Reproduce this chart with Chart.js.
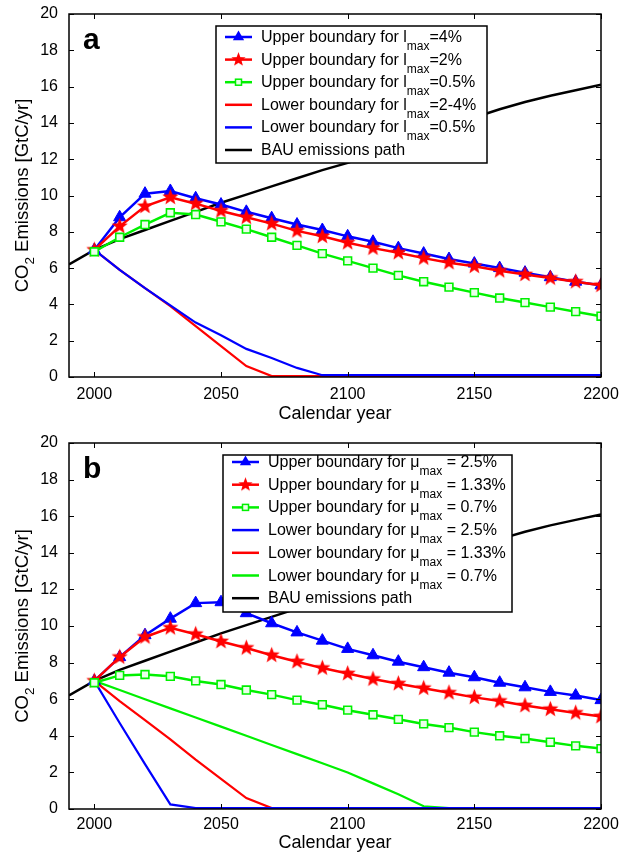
<!DOCTYPE html>
<html>
<head>
<meta charset="utf-8">
<script src="https://cdn.jsdelivr.net/npm/chart.js@4.4.1/dist/chart.umd.min.js"></script>
<style>
  body { margin: 0; background: #fff; }
  #wrap { position: relative; width: 620px; height: 854px; }
  canvas { position: absolute; left: 0; }
</style>
</head>
<body>
<div id="wrap">
  <canvas id="chartA" width="620" height="427" style="top:0"></canvas>
  <canvas id="chartB" width="620" height="427" style="top:427px"></canvas>
</div>
<script>
// years of the scenario runs
const years = [2000, 2010, 2020, 2030, 2040, 2050, 2060, 2070, 2080, 2090, 2100,
               2110, 2120, 2130, 2140, 2150, 2160, 2170, 2180, 2190, 2200];
const bauYears = [1990, 2000, 2010, 2020, 2030, 2040, 2050, 2060, 2070, 2080, 2090, 2100,
                  2110, 2120, 2130, 2140, 2150, 2160, 2170, 2180, 2190, 2200];
const bauPath = [6.2, 7.0, 7.6, 8.1, 8.6, 9.1, 9.6, 10.05, 10.5, 10.95, 11.4, 11.8,
                 12.3, 12.8, 13.3, 13.8, 14.3, 14.75, 15.15, 15.5, 15.8, 16.1];
const xTicks = [2000, 2050, 2100, 2150, 2200];
const yTicks = [0, 2, 4, 6, 8, 10, 12, 14, 16, 18, 20];

// panel a
const aUpper4 = [7.0, 8.8, 10.1, 10.25, 9.85, 9.5, 9.1, 8.75, 8.4, 8.1, 7.75,
                 7.45, 7.1, 6.8, 6.5, 6.25, 6.0, 5.75, 5.5, 5.25, 5.05];
const aUpper2 = [7.0, 8.3, 9.4, 9.9, 9.55, 9.15, 8.8, 8.45, 8.05, 7.75, 7.4,
                 7.1, 6.85, 6.55, 6.3, 6.1, 5.85, 5.65, 5.45, 5.25, 5.05];
const aUpper05 = [6.9, 7.7, 8.4, 9.05, 8.95, 8.55, 8.15, 7.7, 7.25, 6.8, 6.4,
                  6.0, 5.6, 5.25, 4.95, 4.65, 4.35, 4.1, 3.85, 3.6, 3.35];
const aLower24 = [7.0, 5.9, 4.9, 3.9, 2.8, 1.7, 0.6, 0.05, 0.05, 0.05, 0.05,
                  0.05, 0.05, 0.05, 0.05, 0.05, 0.05, 0.05, 0.05, 0.05, 0.05];
const aLower05 = [7.0, 5.9, 4.9, 3.95, 3.0, 2.3, 1.55, 1.05, 0.5, 0.1, 0.1,
                  0.1, 0.1, 0.1, 0.1, 0.1, 0.1, 0.1, 0.1, 0.1, 0.1];

// panel b
const bUpper25 = [7.0, 8.3, 9.5, 10.4, 11.25, 11.3, 10.7, 10.15, 9.65, 9.2, 8.75,
                  8.4, 8.05, 7.75, 7.45, 7.2, 6.9, 6.65, 6.4, 6.2, 5.95];
const bUpper133 = [7.0, 8.3, 9.4, 9.9, 9.55, 9.15, 8.8, 8.4, 8.05, 7.7, 7.4,
                   7.1, 6.85, 6.6, 6.35, 6.1, 5.9, 5.65, 5.45, 5.25, 5.05];
const bUpper07 = [6.9, 7.3, 7.35, 7.25, 7.0, 6.8, 6.5, 6.25, 5.95, 5.7, 5.4,
                  5.15, 4.9, 4.65, 4.45, 4.2, 4.0, 3.85, 3.65, 3.45, 3.3];
const bLower25 = [7.0, 4.7, 2.45, 0.25, 0.05, 0.05, 0.05, 0.05, 0.05, 0.05, 0.05,
                  0.05, 0.05, 0.05, 0.05, 0.05, 0.05, 0.05, 0.05, 0.05, 0.05];
const bLower133 = [7.0, 5.9, 4.85, 3.8, 2.7, 1.65, 0.6, 0.05, 0.05, 0.05, 0.05,
                   0.05, 0.05, 0.05, 0.05, 0.05, 0.05, 0.05, 0.05, 0.05, 0.05];
const bLower07 = [7.0, 6.5, 6.0, 5.5, 5.0, 4.5, 4.0, 3.5, 3.0, 2.5, 2.0,
                  1.4, 0.8, 0.15, 0.05, 0.05, 0.05, 0.05, 0.05, 0.05, 0.05];

const BLUE = '#0000ff';
const RED = '#ff0000';
const GREEN = '#00f000';
const FONT = '"Liberation Sans", Arial, Helvetica, sans-serif';

function pts(xs, ys) {
  return xs.map((x, i) => ({ x: x, y: ys[i] }));
}

// filled five-point star used as marker image
function makeStar(r, color) {
  const c = document.createElement('canvas');
  const s = Math.ceil(r * 2 + 2);
  c.width = s; c.height = s;
  const g = c.getContext('2d');
  g.beginPath();
  for (let i = 0; i < 10; i++) {
    const rr = i % 2 ? r * 0.42 : r;
    const ang = -Math.PI / 2 + i * Math.PI / 5;
    g.lineTo(s / 2 + rr * Math.cos(ang), s / 2 + rr * Math.sin(ang));
  }
  g.closePath();
  g.fillStyle = color;
  g.fill();
  return c;
}
const starBig = makeStar(8.5, RED);
const starSmall = makeStar(7.5, RED);

function upperSet(label, data, kind, color, order) {
  const ds = {
    label: label, data: data, borderColor: color, borderWidth: 2.5,
    backgroundColor: color, pointBorderColor: color, pointBorderWidth: 1,
    pointRadius: 6, tension: 0, order: order
  };
  if (kind === 'triangle') { ds.pointStyle = 'triangle'; ds.pointRadius = 7; }
  if (kind === 'star') { ds.pointStyle = starBig; }
  if (kind === 'square') {
    ds.pointStyle = 'rect'; ds.pointRadius = 5.5;
    ds.pointBackgroundColor = '#eaffea'; ds.pointBorderWidth = 1.6;
  }
  return ds;
}
function lineSet(label, data, color, width, order) {
  return { label: label, data: data, borderColor: color, borderWidth: width,
           pointRadius: 0, tension: 0, order: order };
}

function drawMarker(ctx, kind, x, y, color) {
  ctx.save();
  ctx.fillStyle = color; ctx.strokeStyle = color;
  if (kind === 'triangle') {
    const r = 6.5;
    ctx.beginPath();
    ctx.moveTo(x, y - r);
    ctx.lineTo(x + r * 0.87, y + r * 0.5);
    ctx.lineTo(x - r * 0.87, y + r * 0.5);
    ctx.closePath(); ctx.fill();
  } else if (kind === 'star') {
    ctx.drawImage(starSmall, x - starSmall.width / 2, y - starSmall.height / 2);
  } else if (kind === 'square') {
    ctx.fillStyle = '#eaffea'; ctx.lineWidth = 1.5;
    ctx.fillRect(x - 3, y - 3, 6, 6);
    ctx.strokeRect(x - 3, y - 3, 6, 6);
  }
  ctx.restore();
}

// frame, inward ticks, legend, y title and panel letter
function panelPlugin(cfg) {
  return {
    id: 'panel' + cfg.letter,
    afterDatasetsDraw(chart) {
      const { ctx, chartArea: a, scales } = chart;
      ctx.save();
      ctx.strokeStyle = '#000';
      ctx.lineWidth = 1.5;
      ctx.strokeRect(a.left, a.top, a.right - a.left, a.bottom - a.top);
      ctx.lineWidth = 1;
      ctx.beginPath();
      scales.x.ticks.forEach(t => {
        const px = Math.round(scales.x.getPixelForValue(t.value)) + 0.5;
        ctx.moveTo(px, a.bottom); ctx.lineTo(px, a.bottom - 5);
        ctx.moveTo(px, a.top); ctx.lineTo(px, a.top + 5);
      });
      scales.y.ticks.forEach(t => {
        const py = Math.round(scales.y.getPixelForValue(t.value)) + 0.5;
        ctx.moveTo(a.left, py); ctx.lineTo(a.left + 5, py);
        ctx.moveTo(a.right, py); ctx.lineTo(a.right - 5, py);
      });
      ctx.stroke();
      ctx.restore();
    },
    afterDraw(chart) {
      const { ctx, chartArea: a } = chart;
      const L = cfg.legend;
      ctx.save();
      // legend box
      ctx.fillStyle = '#fff';
      ctx.fillRect(L.x, L.y, L.w, L.h);
      ctx.strokeStyle = '#000';
      ctx.lineWidth = 1.5;
      ctx.strokeRect(L.x, L.y, L.w, L.h);
      cfg.entries.forEach((e, i) => {
        const y = L.first + i * L.step;
        ctx.strokeStyle = e.color;
        ctx.lineWidth = 2.5;
        ctx.beginPath();
        ctx.moveTo(L.lineX, y); ctx.lineTo(L.lineX + 27, y);
        ctx.stroke();
        if (e.kind) drawMarker(ctx, e.kind, L.lineX + 13.5, y, e.color);
        ctx.fillStyle = '#000';
        ctx.textBaseline = 'alphabetic';
        ctx.textAlign = 'left';
        let tx = L.textX;
        ctx.font = '16px ' + FONT;
        ctx.fillText(e.main, tx, y + 5);
        tx += ctx.measureText(e.main).width;
        if (e.sub) {
          ctx.font = '12px ' + FONT;
          ctx.fillText(e.sub, tx, y + 13);
          tx += ctx.measureText(e.sub).width;
          ctx.font = '16px ' + FONT;
          ctx.fillText(e.tail, tx, y + 5);
        }
      });
      // panel letter
      ctx.fillStyle = '#000';
      ctx.font = 'bold 30px ' + FONT;
      ctx.fillText(cfg.letter, a.left + 14, a.top + 35);
      // y axis title with subscript
      const cy = (a.top + a.bottom) / 2;
      ctx.translate(cfg.titleX, cy);
      ctx.rotate(-Math.PI / 2);
      const big = '18.5px ' + FONT, small = '13.5px ' + FONT;
      ctx.font = big;
      const w1 = ctx.measureText('CO').width;
      const w3 = ctx.measureText(' Emissions [GtC/yr]').width;
      ctx.font = small;
      const w2 = ctx.measureText('2').width;
      let x0 = -(w1 + w2 + w3) / 2;
      ctx.textBaseline = 'middle';
      ctx.font = big;
      ctx.fillText('CO', x0, 0);
      ctx.font = small;
      ctx.fillText('2', x0 + w1, 7);
      ctx.font = big;
      ctx.fillText(' Emissions [GtC/yr]', x0 + w1 + w2, 0);
      ctx.restore();
    }
  };
}

function makeChart(id, datasets, plugin, pad, xHeight, xPad, titlePad) {
  return new Chart(document.getElementById(id), {
    type: 'line',
    data: { datasets: datasets },
    options: {
      responsive: false,
      animation: false,
      devicePixelRatio: 1,
      layout: { padding: pad },
      plugins: { legend: { display: false }, tooltip: { enabled: false } },
      scales: {
        x: {
          type: 'linear', min: 1990, max: 2200,
          grid: { display: false, drawTicks: false },
          border: { display: false },
          afterBuildTicks: s => { s.ticks = xTicks.map(v => ({ value: v })); },
          afterFit: s => { s.height = xHeight; s.paddingLeft = 0; s.paddingRight = 0; },
          ticks: { color: '#000', padding: xPad, maxRotation: 0, font: { family: FONT, size: 16 },
                   callback: v => String(v) },
          title: { display: true, text: 'Calendar year', color: '#000',
                   padding: { top: 0, bottom: titlePad }, font: { family: FONT, size: 18 } }
        },
        y: {
          min: 0, max: 20,
          grid: { display: false, drawTicks: false },
          border: { display: false },
          afterBuildTicks: s => { s.ticks = yTicks.map(v => ({ value: v })); },
          afterFit: s => { s.width = 69; s.paddingTop = 0; s.paddingBottom = 0; },
          ticks: { color: '#000', padding: 11, font: { family: FONT, size: 16 },
                   callback: v => String(v) }
        }
      }
    },
    plugins: [plugin]
  });
}

const bauSet = () => lineSet('BAU emissions path', pts(bauYears, bauPath), '#000', 2.5, 9);

makeChart('chartA', [
  upperSet('Upper boundary for lmax=4%', pts(years, aUpper4), 'triangle', BLUE, 3),
  upperSet('Upper boundary for lmax=2%', pts(years, aUpper2), 'star', RED, 2),
  upperSet('Upper boundary for lmax=0.5%', pts(years, aUpper05), 'square', GREEN, 1),
  lineSet('Lower boundary for lmax=2-4%', pts(years, aLower24), RED, 2.2, 6),
  lineSet('Lower boundary for lmax=0.5%', pts(years, aLower05), BLUE, 2.2, 5),
  bauSet()
], panelPlugin({
  letter: 'a', titleX: 23,
  legend: { x: 216, y: 26, w: 271, h: 137, first: 37, step: 22.6, lineX: 225, textX: 261 },
  entries: [
    { kind: 'triangle', color: BLUE, main: 'Upper boundary for l', sub: 'max', tail: '=4%' },
    { kind: 'star', color: RED, main: 'Upper boundary for l', sub: 'max', tail: '=2%' },
    { kind: 'square', color: GREEN, main: 'Upper boundary for l', sub: 'max', tail: '=0.5%' },
    { kind: null, color: RED, main: 'Lower boundary for l', sub: 'max', tail: '=2-4%' },
    { kind: null, color: BLUE, main: 'Lower boundary for l', sub: 'max', tail: '=0.5%' },
    { kind: null, color: '#000', main: 'BAU emissions path' }
  ]
}), { left: 0, right: 19, top: 14, bottom: 0 }, 50, 8, 2);

makeChart('chartB', [
  upperSet('Upper boundary for \u03bcmax = 2.5%', pts(years, bUpper25), 'triangle', BLUE, 3),
  upperSet('Upper boundary for \u03bcmax = 1.33%', pts(years, bUpper133), 'star', RED, 2),
  upperSet('Upper boundary for \u03bcmax = 0.7%', pts(years, bUpper07), 'square', GREEN, 1),
  lineSet('Lower boundary for \u03bcmax = 2.5%', pts(years, bLower25), BLUE, 2.2, 6),
  lineSet('Lower boundary for \u03bcmax = 1.33%', pts(years, bLower133), RED, 2.2, 7),
  lineSet('Lower boundary for \u03bcmax = 0.7%', pts(years, bLower07), GREEN, 2.2, 8),
  bauSet()
], panelPlugin({
  letter: 'b', titleX: 23,
  legend: { x: 223, y: 28, w: 289, h: 157, first: 35, step: 22.7, lineX: 232, textX: 268 },
  entries: [
    { kind: 'triangle', color: BLUE, main: 'Upper boundary for \u03bc', sub: 'max', tail: ' = 2.5%' },
    { kind: 'star', color: RED, main: 'Upper boundary for \u03bc', sub: 'max', tail: ' = 1.33%' },
    { kind: 'square', color: GREEN, main: 'Upper boundary for \u03bc', sub: 'max', tail: ' = 0.7%' },
    { kind: null, color: BLUE, main: 'Lower boundary for \u03bc', sub: 'max', tail: ' = 2.5%' },
    { kind: null, color: RED, main: 'Lower boundary for \u03bc', sub: 'max', tail: ' = 1.33%' },
    { kind: null, color: GREEN, main: 'Lower boundary for \u03bc', sub: 'max', tail: ' = 0.7%' },
    { kind: null, color: '#000', main: 'BAU emissions path' }
  ]
}), { left: 0, right: 19, top: 16, bottom: 0 }, 45, 6, 0);
</script>
</body>
</html>
